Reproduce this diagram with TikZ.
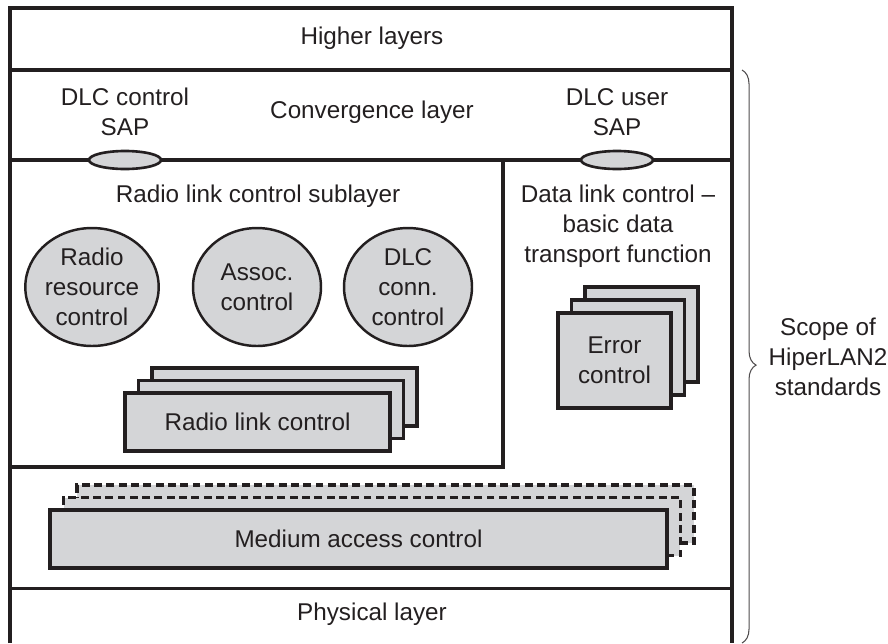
\documentclass[tikz,border=0pt]{standalone}
\usepackage{fontspec}
\setmainfont{Liberation Sans}
\usetikzlibrary{positioning, shapes.geometric, decorations.pathreplacing, calc}
\definecolor{cardgray}{HTML}{D4D5D7}
\definecolor{ink}{HTML}{231F20}

\begin{document}
\begin{tikzpicture}[x=0.02cm, y=-0.02cm,
            lbl/.style={font=\fontsize{13.8}{17}\selectfont, text=ink, align=center, inner sep=0pt},
            frame/.style={draw=ink, line width=2.6pt},
            rule/.style={draw=ink, line width=2.1pt},
            card/.style={lbl, rectangle, draw=ink, line width=2pt, fill=cardgray},
            ghost/.style={card, line width=2.2pt, dash pattern=on 4.5pt off 2.5pt},
            blob/.style={lbl, ellipse, draw=ink, line width=1.4pt, fill=cardgray, minimum width=2.56cm, minimum height=2.36cm},
            sap/.style={ellipse, draw=ink, line width=1.5pt, fill=cardgray, minimum width=1.44cm, minimum height=0.36cm, inner sep=0pt},
            scope/.style={draw=ink!80, line width=0.6pt, decorate, decoration={brace, amplitude=8pt, aspect=0.515}}
        ]
            \useasboundingbox (0,0) rectangle (888,643);

            % Frame and layer boundaries
            \coordinate (tl) at (10,8);
            \coordinate (tr) at (732,8);
            \draw[frame] (10,643) -- (tl) -- (tr) -- (732,643);
            \draw[frame] (10,70) -- (732,70);
            \draw[rule] (10,160) -- (732,160);
            \draw[rule] (503,160) -- (503,467) -- (10,467);
            \draw[rule, line width=1.7pt] (10,588) -- (732,588);

            \node[lbl] (higher) at (372,38) {Higher layers};
            \node[lbl] (conv) at (372,112) {Convergence layer};
            \node[lbl] (ctrlsap) at (125,112) {DLC control\\SAP};
            \node[lbl] (usersap) at (617,112) {DLC user\\SAP};
            \node[sap] (ctrlring) at (125,160) {};
            \node[sap] (userring) at (617,160) {};

            % Radio link control sublayer
            \node[lbl] (rlcsub) at (258,196) {Radio link control sublayer};
            \node[blob] (rrc) at (92,287) {Radio\\resource\\control};
            \node[blob] (assoc) at (257,287) {Assoc.\\control};
            \node[blob] (dcc) at (408,287) {DLC\\conn.\\control};

            \coordinate (rlcpos) at (257.5,422);
            \node[card, minimum width=5.3cm, minimum height=1.16cm] (rlc3) at ($(rlcpos)+(27,-25)$) {};
            \node[card, minimum width=5.3cm, minimum height=1.16cm] (rlc2) at ($(rlcpos)+(13.5,-12.5)$) {};
            \node[card, minimum width=5.3cm, minimum height=1.16cm] (rlc) at (rlcpos) {Radio link control};

            % Data link control side
            \node[lbl] (dlc) at (618,226) {Data link control --\\basic data\\transport function};
            \coordinate (errpos) at (614.5,360.5);
            \node[card, minimum width=2.26cm, minimum height=1.9cm] (err3) at ($(errpos)+(27,-26)$) {};
            \node[card, minimum width=2.26cm, minimum height=1.9cm] (err2) at ($(errpos)+(13.5,-13)$) {};
            \node[card, minimum width=2.26cm, minimum height=1.9cm] (err) at (errpos) {Error\\control};

            % Medium access control
            \coordinate (macpos) at (358.5,539);
            \node[ghost, minimum width=12.34cm, minimum height=1.16cm] (mac3) at ($(macpos)+(27,-25)$) {};
            \node[ghost, minimum width=12.34cm, minimum height=1.16cm] (mac2) at ($(macpos)+(13.5,-12.5)$) {};
            \node[card, minimum width=12.34cm, minimum height=1.16cm] (mac) at (macpos) {Medium access control};

            \node[lbl] (phy) at (372,614) {Physical layer};

            % Scope brace
            \coordinate (bracetop) at (742,70);
            \coordinate (bracebot) at (742,643);
            \draw[scope] (bracetop) -- (bracebot);
            \node[lbl] (scopetxt) at (828,357) {Scope of\\HiperLAN2\\standards};

        \end{tikzpicture}
\end{document}
